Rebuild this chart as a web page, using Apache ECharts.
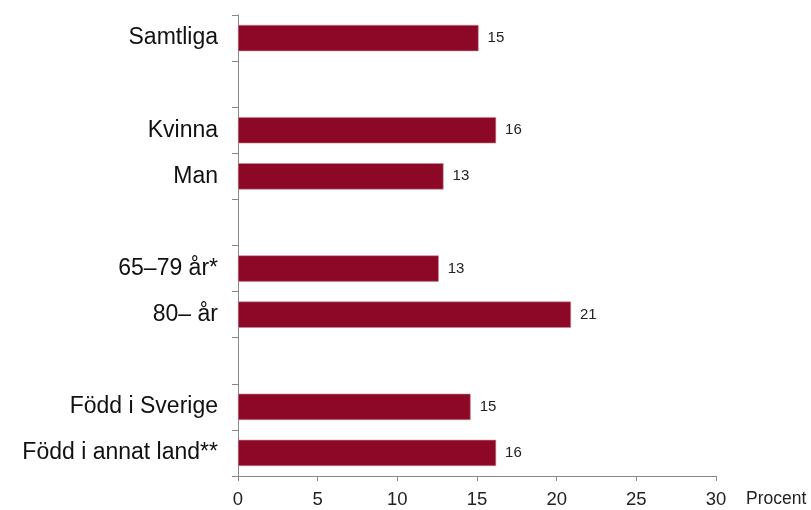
<!DOCTYPE html>
<html>
<head>
<meta charset="utf-8">
<script src="https://cdn.jsdelivr.net/npm/echarts@6/dist/echarts.min.js"></script>
<style>
  html, body { margin: 0; padding: 0; background: #fff; }
  #chart { width: 811px; height: 510px; }
</style>
</head>
<body>
<div id="chart"></div>
<script>
// kategorier, tomma strängar ger mellanrum mellan grupperna
const categories = ['Samtliga', '', 'Kvinna', 'Man', '', '65–79 år*', '80– år', '', 'Född i Sverige', 'Född i annat land**'];
const values = [15.1, null, 16.2, 12.9, null, 12.6, 20.9, null, 14.6, 16.2];
const xTicks = [0, 5, 10, 15, 20, 25, 30];

const chart = echarts.init(document.getElementById('chart'));

chart.setOption({
  animation: false,
  grid: { left: 238, right: 95, top: 15, bottom: 34 },
  xAxis: {
    type: 'value',
    min: xTicks[0],
    max: xTicks[xTicks.length - 1],
    interval: 5,
    name: 'Procent',
    nameLocation: 'end',
    nameGap: 30,
    nameTextStyle: { fontFamily: 'Liberation Sans', fontSize: 17.5, color: '#222', verticalAlign: 'top', padding: [14, 0, 0, 0] },
    axisLine: { show: true, lineStyle: { color: '#888', width: 1 } },
    axisTick: { show: true, length: 5, lineStyle: { color: '#888' } },
    axisLabel: { fontFamily: 'Liberation Sans', fontSize: 18.5, color: '#222', margin: 14 },
    splitLine: { show: false }
  },
  yAxis: {
    type: 'category',
    data: categories,
    inverse: true,
    axisLine: { show: true, lineStyle: { color: '#888', width: 1 } },
    axisTick: { show: true, length: 6, interval: 0, lineStyle: { color: '#888' } },
    axisLabel: { fontFamily: 'Liberation Sans', fontSize: 23, color: '#111', margin: 20, interval: 0, padding: [4, 0, 0, 0] }
  },
  series: [{
    type: 'bar',
    data: values,
    barWidth: '57%',
    itemStyle: { color: '#8C0826', borderColor: '#c98a96', borderWidth: 0.6 },
    label: {
      show: true,
      position: 'right',
      distance: 9,
      fontFamily: 'Liberation Sans',
      fontSize: 15,
      color: '#222',
      padding: [2, 0, 0, 0],
      formatter: p => Math.round(p.value)
    }
  }]
});
</script>
</body>
</html>
